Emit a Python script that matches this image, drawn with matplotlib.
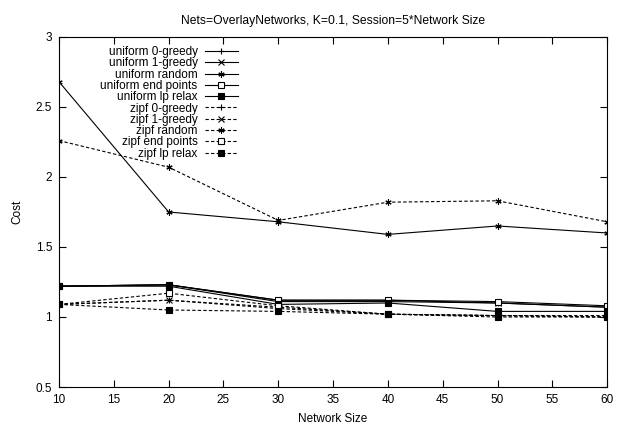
import matplotlib
matplotlib.use("Agg")
import matplotlib.pyplot as plt

plt.rcParams['font.family'] = ['Liberation Sans', 'DejaVu Sans']

# data
sizes = [10, 20, 30, 40, 50, 60]
labels = ["uniform 0-greedy", "uniform 1-greedy", "uniform random",
          "uniform end points", "uniform lp relax",
          "zipf 0-greedy", "zipf 1-greedy", "zipf random",
          "zipf end points", "zipf lp relax"]
uni_0greedy = [1.22, 1.23, 1.11, 1.11, 1.10, 1.07]
uni_1greedy = [1.22, 1.23, 1.12, 1.12, 1.10, 1.07]
uni_random = [2.68, 1.75, 1.68, 1.59, 1.65, 1.60]
uni_endpts = [1.22, 1.23, 1.12, 1.12, 1.11, 1.08]
uni_lprelax = [1.22, 1.22, 1.09, 1.10, 1.04, 1.04]
zipf_0greedy = [1.09, 1.12, 1.07, 1.02, 1.01, 1.00]
zipf_1greedy = [1.09, 1.12, 1.06, 1.02, 1.01, 1.00]
zipf_random = [2.26, 2.07, 1.69, 1.82, 1.83, 1.68]
zipf_endpts = [1.09, 1.17, 1.08, 1.02, 1.01, 1.01]
zipf_lprelax = [1.09, 1.05, 1.04, 1.02, 1.00, 1.00]

series = [uni_0greedy, uni_1greedy, uni_random, uni_endpts, uni_lprelax,
          zipf_0greedy, zipf_1greedy, zipf_random, zipf_endpts, zipf_lprelax]
markers = ['+', 'x', (6, 2, 0), 's', 's'] * 2
faces = ['black', 'black', 'black', 'white', 'black'] * 2

fig = plt.figure(figsize=(6.18, 4.30), dpi=100)
ax = fig.add_axes([0.0955, 0.1, 0.887, 0.814])

for i, (lab, ys) in enumerate(zip(labels, series)):
    ls = '-' if i < 5 else (0, (3, 2))
    ax.plot(sizes, ys, color='black', linestyle=ls, linewidth=0.8,
            marker=markers[i], markersize=4.5, markerfacecolor=faces[i],
            markeredgecolor='black', markeredgewidth=0.8, label=lab)

ax.set_xlim(10, 60)
ax.set_ylim(0.5, 3)
ax.set_xticks(range(10, 61, 5))
ax.set_yticks([0.5, 1, 1.5, 2, 2.5, 3])
ax.set_yticklabels(['0.5', '1', '1.5', '2', '2.5', '3'])
ax.tick_params(direction='in', top=True, right=True, labelsize=8.5, length=5, pad=5)
ax.set_xlabel("Network Size", fontsize=8.5, labelpad=5)
ax.set_ylabel("Cost", fontsize=8.5, labelpad=9)
ax.set_title("Nets=OverlayNetworks, K=0.1, Session=5*Network Size", fontsize=8.7, pad=9)

leg = ax.legend(loc='upper right', bbox_to_anchor=(0.327, 0.974), frameon=False,
                markerfirst=False, fontsize=8.5, labelspacing=-0.06,
                handlelength=2.85, handletextpad=0.6, borderpad=0,
                borderaxespad=0)
for t in leg.get_texts():
    t.set_horizontalalignment('right')
leg._legend_box.align = 'right'

fig.savefig("out.png", dpi=100)
